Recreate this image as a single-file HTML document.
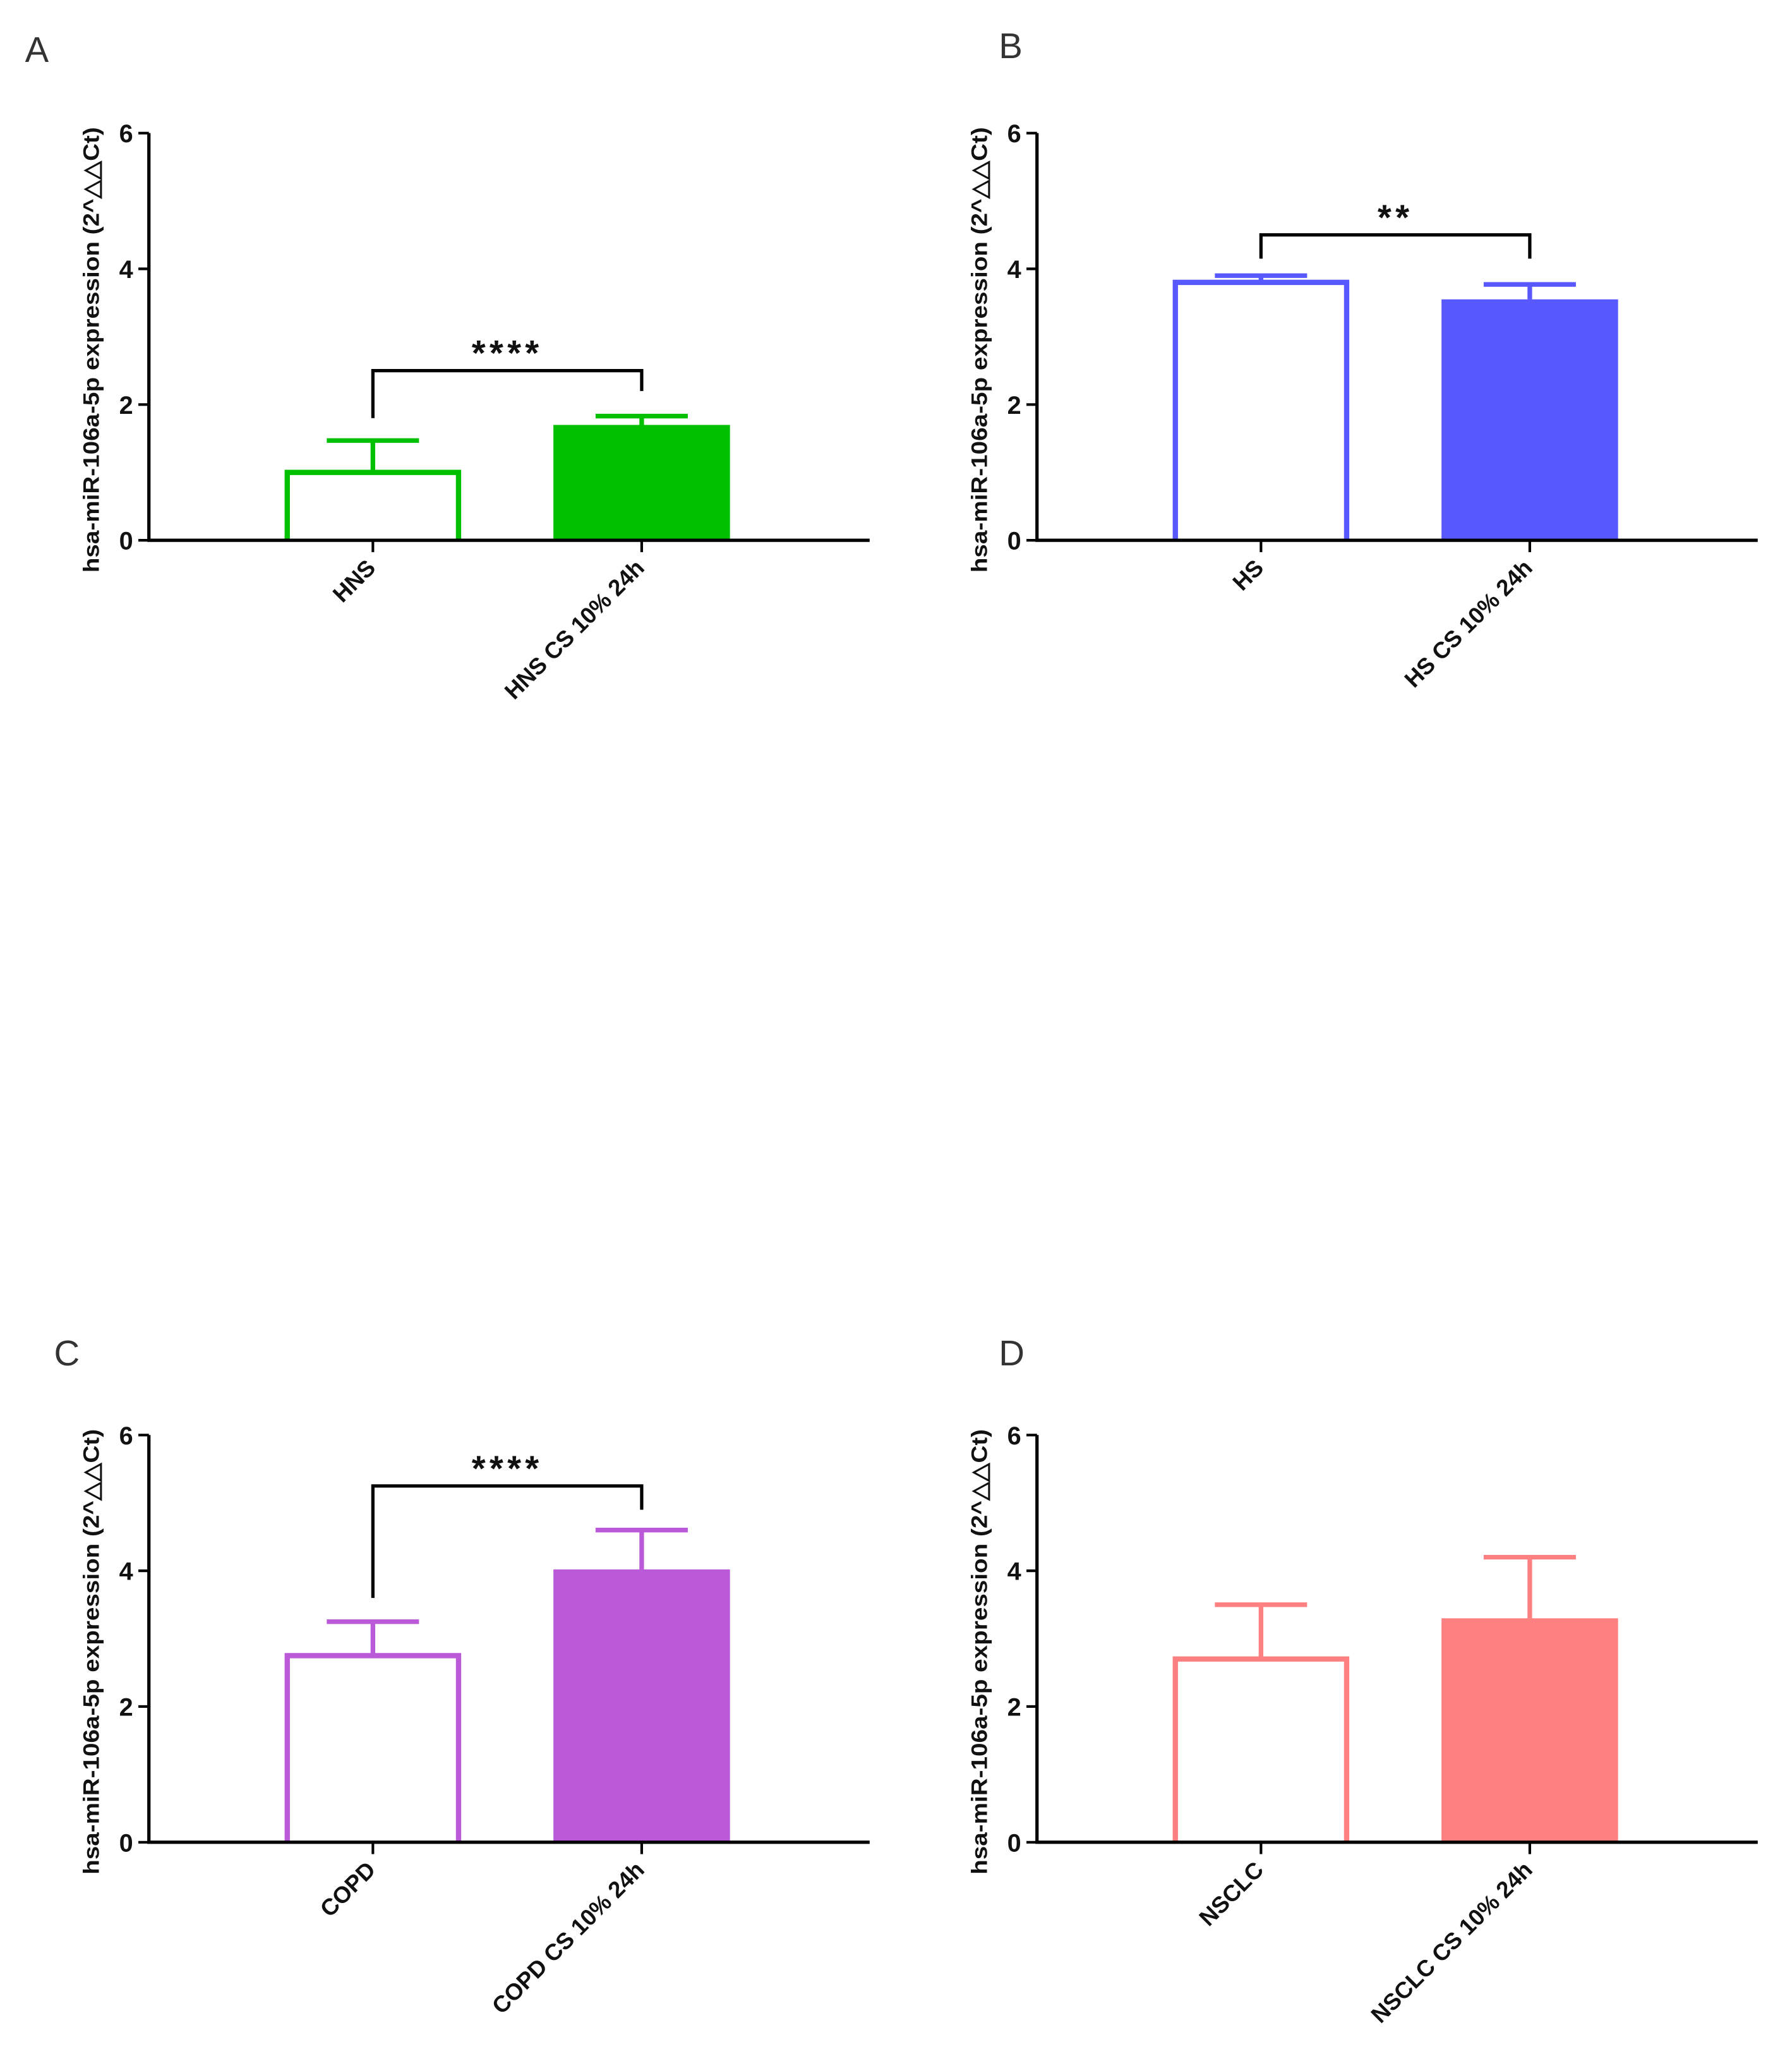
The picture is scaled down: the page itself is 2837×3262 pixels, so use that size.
<!DOCTYPE html>
<html><head><meta charset="utf-8"><style>
html,body{margin:0;padding:0;background:#fff;}
svg{display:block;}
text{font-family:"Liberation Sans",Arial,sans-serif;}
</style></head><body>
<svg id="fig" width="2837" height="3262" viewBox="0 0 1360 1564" preserveAspectRatio="none" xmlns="http://www.w3.org/2000/svg"></svg>
<script>
// Panel data
const panelLetters = ["A","B","C","D"];
const categoriesA = ["HNS","HNS CS 10% 24h"];
const categoriesB = ["HS","HS CS 10% 24h"];
const categoriesC = ["COPD","COPD CS 10% 24h"];
const categoriesD = ["NSCLC","NSCLC CS 10% 24h"];
const valuesA = [1.0, 1.7];
const valuesB = [3.8, 3.55];
const valuesC = [2.75, 4.02];
const valuesD = [2.7, 3.3];
const errorsA = [0.47, 0.13];
const errorsB = [0.1, 0.22];
const errorsC = [0.5, 0.58];
const errorsD = [0.8, 0.9];
const sigA = "****";
const sigB = "**";
const sigC = "****";
const sigD = "";
const yTicks = [0, 2, 4, 6];
const yMax = 6;

const panels = [
  {letter:panelLetters[0], cats:categoriesA, vals:valuesA, errs:errorsA, sig:sigA, color:"#00c000", ox:113, oy:410, lx:19, ly:47, brY:2.5, dropL:1.8, dropR:2.2},
  {letter:panelLetters[1], cats:categoriesB, vals:valuesB, errs:errorsB, sig:sigB, color:"#5858ff", ox:787, oy:410, lx:758, ly:44, brY:4.5, dropL:4.15, dropR:4.15},
  {letter:panelLetters[2], cats:categoriesC, vals:valuesC, errs:errorsC, sig:sigC, color:"#bb5ad8", ox:113, oy:1398, lx:41, ly:1036, brY:5.25, dropL:3.6, dropR:4.9},
  {letter:panelLetters[3], cats:categoriesD, vals:valuesD, errs:errorsD, sig:sigD, color:"#ff8080", ox:787, oy:1398, lx:758, ly:1036, brY:0, dropL:0, dropR:0}
];

const svg = document.getElementById('fig');
const NS = "http://www.w3.org/2000/svg";
function mk(tag, attrs, parent){
  const e = document.createElementNS(NS, tag);
  for (const k in attrs) e.setAttribute(k, attrs[k]);
  (parent||svg).appendChild(e);
  return e;
}
const plotH = 309, plotW = 547, barW = 134;

panels.forEach((p, pi) => {
  const g = mk('g', {});
  
  
  const yS = v => p.oy - v / yMax * plotH;
  const xS = i => p.ox + 170 + i * 204;

  const lt = mk('text', {x:p.lx, y:p.ly, 'font-size':27, fill:'#333'}, g);
  lt.textContent = p.letter;
  
  

  p.vals.forEach((v, i) => {
    const cx = xS(i);
    let bar;
    if (i === 0) {
      bar = mk('path', {d:`M${cx-barW/2+2},${p.oy} V${yS(v)} H${cx+barW/2-2} V${p.oy}`, fill:'#fff', stroke:p.color, 'stroke-width':4}, g);
    } else {
      bar = mk('rect', {x:cx-barW/2, y:yS(v), width:barW, height:p.oy-yS(v), fill:p.color}, g);
    }
    
    
    const top = v + p.errs[i];
    const eb = mk('path', {d:`M${cx},${yS(v)} V${yS(top)} M${cx-35},${yS(top)} H${cx+35}`, stroke:p.color, 'stroke-width':3.5, fill:'none'}, g);
    
    
  });

  const ax = mk('path', {d:`M${p.ox},${p.oy-plotH} V${p.oy} H${p.ox+plotW}`, stroke:'#000', 'stroke-width':2.5, fill:'none'}, g);
  
  
  yTicks.forEach(t => {
    mk('line', {x1:p.ox-8, x2:p.ox, y1:yS(t), y2:yS(t), stroke:'#000', 'stroke-width':2}, g);
    const tl = mk('text', {x:p.ox-12, y:yS(t)+7, 'font-size':19, 'font-weight':'bold', 'text-anchor':'end', fill:'#111'}, g);
    tl.textContent = t;
    
    
  });
  p.cats.forEach((c, i) => {
    const cx = xS(i);
    mk('line', {x1:cx, x2:cx, y1:p.oy, y2:p.oy+9, stroke:'#000', 'stroke-width':2}, g);
    const xl = mk('text', {x:cx+3, y:p.oy+22, 'font-size':17.5, 'font-weight':'bold', 'text-anchor':'end', fill:'#111', transform:`rotate(-45 ${cx+3} ${p.oy+22})`}, g);
    xl.textContent = c;
    
    
  });
  const ty = p.oy - plotH/2 + 10;
  const yt = mk('text', {x:p.ox-38, y:ty, 'font-size':17, 'font-weight':'bold', 'text-anchor':'middle', fill:'#111', textLength:338, lengthAdjust:'spacingAndGlyphs', transform:`rotate(-90 ${p.ox-38} ${ty})`}, g);
  yt.textContent = 'hsa-miR-106a-5p expression (2^\u25B3\u25B3Ct)';
  
  

  if (p.sig) {
    const x0 = xS(0), x1 = xS(1);
    const br = mk('path', {d:`M${x0},${yS(p.dropL)} V${yS(p.brY)} H${x1} V${yS(p.dropR)}`, stroke:'#000', 'stroke-width':2.5, fill:'none'}, g);
    
    
    const st = mk('text', {x:(x0+x1)/2, y:yS(p.brY)-4, 'font-size':27, 'font-weight':'bold', 'text-anchor':'middle', 'letter-spacing':3, fill:'#111'}, g);
    st.textContent = p.sig;
    
    
  }
});
</script>
</body></html>
